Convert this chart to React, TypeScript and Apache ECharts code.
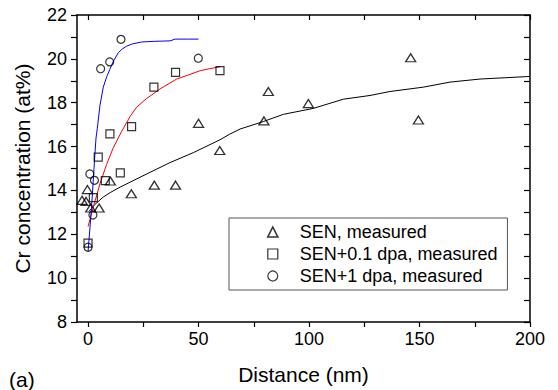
import React, { useEffect, useRef } from "react";
import * as echarts from "echarts";

const xTickValues = [0, 25, 50, 75, 100, 125, 150, 175, 200];
const xLabelValues = [0, 50, 100, 150, 200];
const yTickValues = [8, 9, 10, 11, 12, 13, 14, 15, 16, 17, 18, 19, 20, 21, 22];

const senMeasured: [number, number][] = [
  [-2.7, 13.55], [-0.9, 13.5], [-0.3, 14.04], [1.2, 13.2], [5, 13.2], [10.1, 14.43],
  [19.6, 13.85], [30, 14.24], [39.6, 14.24], [50, 17.06], [59.6, 15.82], [79.6, 17.17],
  [81.6, 18.51], [99.7, 17.96], [146, 20.05], [149.5, 17.21],
];
const sen01Measured: [number, number][] = [
  [0, 11.6], [2.4, 13.67], [4.6, 15.52], [7.8, 14.45], [9.9, 16.58], [14.6, 14.8],
  [19.7, 16.91], [29.8, 18.71], [39.6, 19.38], [59.7, 19.46],
];
const sen1Measured: [number, number][] = [
  [0, 11.41], [0.8, 14.75], [2.9, 14.46], [2.2, 12.88], [5.7, 19.55], [9.8, 19.86],
  [14.9, 20.89], [49.9, 20.03],
];

const blueCurve: [number, number][] = [
  [0, 11.2], [1.6, 13.25], [3.1, 15.64], [3.6, 16.39], [4.2, 16.84], [5.4, 17.88],
  [6.9, 18.71], [8.5, 19.2], [9.9, 19.53], [11.5, 19.9], [13.7, 20.28], [15.5, 20.45],
  [17.5, 20.58], [20, 20.68], [24.3, 20.77], [30, 20.8], [37.1, 20.82], [39.4, 20.9],
  [45, 20.9], [50, 20.9],
];
const redCurve: [number, number][] = [
  [0, 12.35], [2.4, 13.25], [5.4, 14.3], [8.4, 15.19], [11.4, 15.94], [15.2, 16.69],
  [19, 17.37], [22, 17.8], [26.5, 18.19], [32.6, 18.63], [40.1, 19.08], [45, 19.25],
  [50.7, 19.46], [55, 19.55], [59.7, 19.64],
];
const blackCurve: [number, number][] = [
  [0.5, 13.05], [3, 13.35], [6.9, 13.7], [10, 13.9], [14.5, 14.15], [23.5, 14.6],
  [31, 14.97], [37.1, 15.27], [47.6, 15.72], [59.7, 16.31], [64.2, 16.57], [68.8, 16.8],
  [79.3, 17.14], [88.4, 17.47], [101.9, 17.74], [115.5, 18.16], [127.6, 18.33],
  [136.6, 18.51], [151.7, 18.71], [163.8, 18.94], [177.4, 19.08], [198.5, 19.19], [200, 19.2],
];

const FONT = "'Liberation Sans', Arial, sans-serif";
const hollow = { color: "rgba(0,0,0,0)", borderColor: "#000", borderWidth: 1.2 };

export default function App() {
  const ref = useRef<HTMLDivElement>(null);
  useEffect(() => {
    if (!ref.current) return;
    const chart = echarts.init(ref.current, undefined, { renderer: "svg" });
    const axisLine = { show: true, onZero: false, lineStyle: { color: "#000", width: 1.5 } };
    const xBase = { type: "value", min: -5, max: 200, splitLine: { show: false } };
    const yBase = { type: "value", min: 8, max: 22, interval: 2, splitLine: { show: false } };
    chart.setOption({
      animation: false,
      backgroundColor: "#fff",
      textStyle: { fontFamily: FONT },
      grid: { left: 77, top: 15, width: 453, height: 312, containLabel: false },
      xAxis: [
        {
          ...xBase,
          position: "bottom",
          axisLine,
          axisTick: { show: true, inside: false, length: 5, customValues: xTickValues, lineStyle: { color: "#000", width: 1.2 } },
          axisLabel: { customValues: xLabelValues, color: "#000", fontSize: 18, fontFamily: FONT, margin: 8 },
          name: "Distance (nm)",
          nameLocation: "middle",
          nameGap: 42,
          nameTextStyle: { color: "#000", fontSize: 21, fontFamily: FONT },
        },
        {
          ...xBase,
          position: "top",
          axisLine,
          axisTick: { show: true, inside: true, length: 5, customValues: xTickValues, lineStyle: { color: "#000", width: 1.2 } },
          axisLabel: { show: false },
        },
      ],
      yAxis: [
        {
          ...yBase,
          position: "left",
          axisLine,
          axisTick: { show: true, inside: false, length: 6, customValues: yTickValues, lineStyle: { color: "#000", width: 1.2 } },
          axisLabel: { color: "#000", fontSize: 18, fontFamily: FONT, margin: 10 },
          name: "Cr concentration (at%)",
          nameLocation: "middle",
          nameGap: 44,
          nameTextStyle: { color: "#000", fontSize: 21, fontFamily: FONT },
        },
        {
          ...yBase,
          position: "right",
          axisLine,
          axisTick: { show: true, inside: true, length: 6, customValues: yTickValues, lineStyle: { color: "#000", width: 1.2 } },
          axisLabel: { show: false },
        },
      ],
      legend: {
        orient: "vertical",
        left: 229,
        top: 218,
        padding: [4, 10, 4, 38],
        itemGap: 2,
        itemWidth: 10,
        itemHeight: 10,
        borderColor: "#555",
        borderWidth: 1,
        backgroundColor: "#fff",
        textStyle: { color: "#000", fontSize: 18, fontFamily: FONT, lineHeight: 20, padding: [0, 0, 0, 17] },
        data: [
          { name: "SEN, measured", icon: "triangle", itemStyle: { ...hollow, borderWidth: 1.6 } },
          { name: "SEN+0.1 dpa, measured", icon: "rect", itemStyle: { ...hollow } },
          { name: "SEN+1 dpa, measured", icon: "circle", itemStyle: { ...hollow } },
        ],
      },
      graphic: [
        { type: "text", left: 9, top: 369, style: { text: "(a)", fill: "#000", fontSize: 21, fontFamily: FONT } },
      ],
      series: [
        {
          type: "line", data: blackCurve, showSymbol: false, symbol: "none", silent: true,
          lineStyle: { color: "#000", width: 1 }, z: 2,
        },
        {
          type: "line", data: redCurve, showSymbol: false, symbol: "none", silent: true,
          lineStyle: { color: "#ff0000", width: 1 }, z: 2,
        },
        {
          type: "line", data: blueCurve, showSymbol: false, symbol: "none", silent: true,
          lineStyle: { color: "#0000ff", width: 1 }, z: 2,
        },
        {
          name: "SEN, measured", type: "scatter", data: senMeasured, symbol: "triangle",
          symbolSize: [10, 8], itemStyle: { ...hollow, borderWidth: 1.3 }, z: 3,
        },
        {
          name: "SEN+0.1 dpa, measured", type: "scatter", data: sen01Measured, symbol: "rect",
          symbolSize: 8, itemStyle: { ...hollow }, z: 3,
        },
        {
          name: "SEN+1 dpa, measured", type: "scatter", data: sen1Measured, symbol: "circle",
          symbolSize: 8, itemStyle: { ...hollow }, z: 3,
        },
      ],
    });
    return () => chart.dispose();
  }, []);
  return (
    <div
      ref={ref}
      style={{ position: "fixed", left: 0, top: 0, width: 558, height: 390, background: "#fff" }}
    />
  );
}
